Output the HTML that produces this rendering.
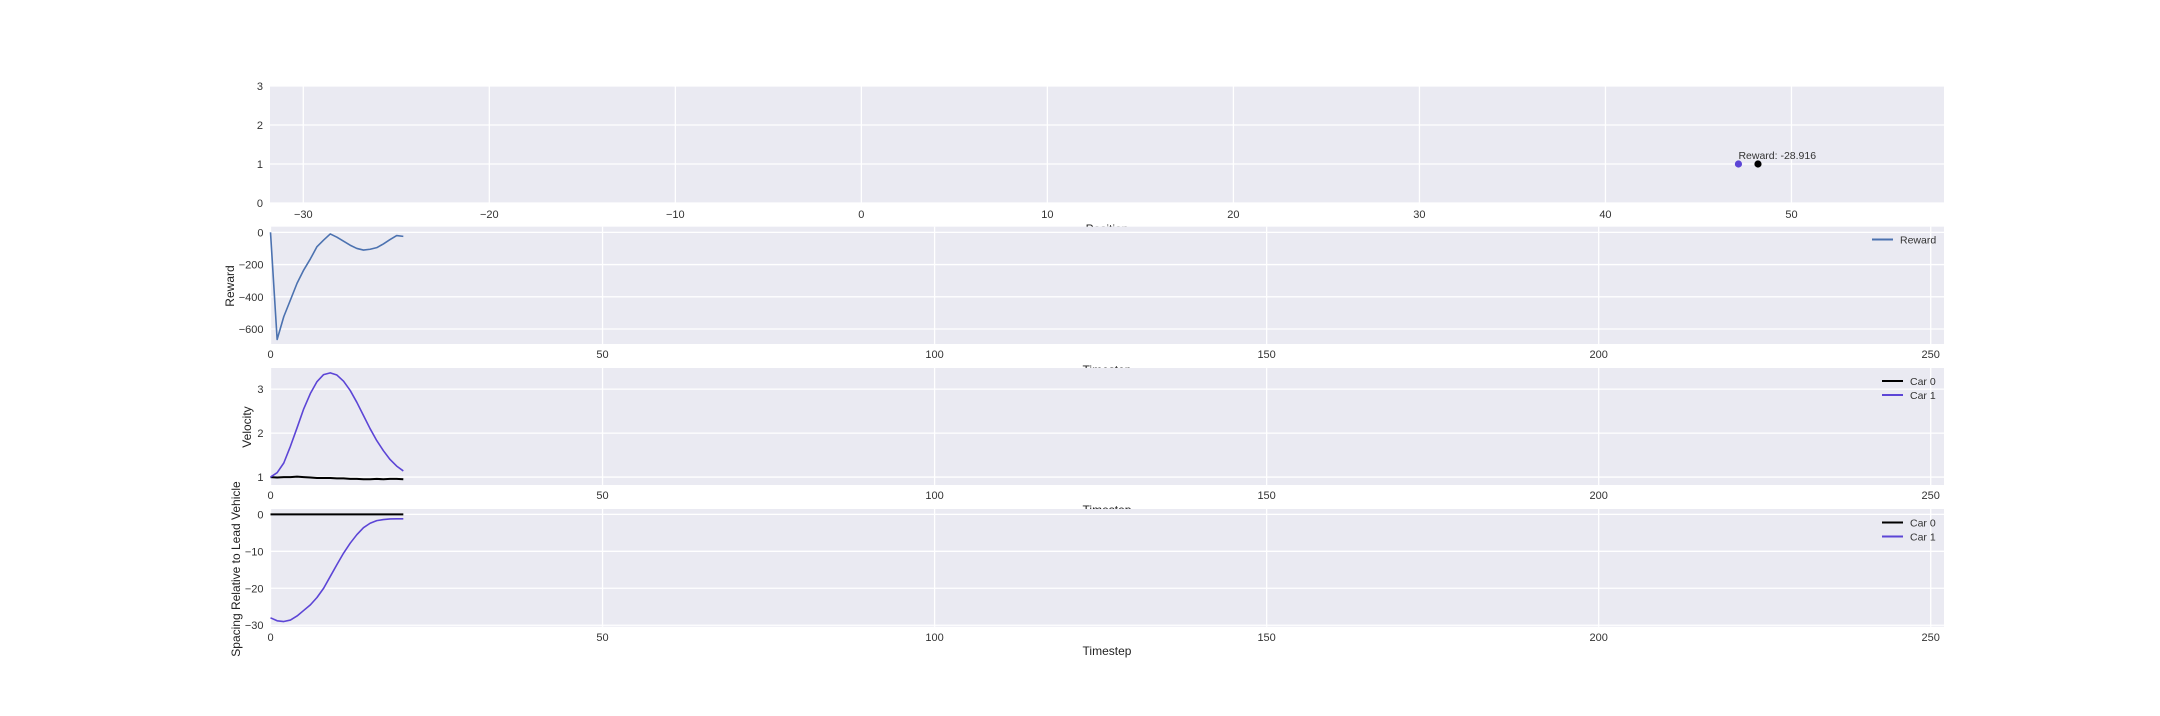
<!DOCTYPE html>
<html><head><meta charset="utf-8">
<style>
html,body{margin:0;padding:0;background:#fff;}
svg{display:block;font-family:"Liberation Sans",Arial,sans-serif;}
</style></head>
<body>
<svg id="chart" width="2160" height="716" viewBox="0 0 2160 716" xmlns="http://www.w3.org/2000/svg"></svg>
<script>
// ---- data ----
const posXTicks = [-30,-20,-10,0,10,20,30,40,50];
const posYTicks = [0,1,2,3];
const carPositions = [47.15, 48.2];
const carRows = [1, 1];
const carColors = ['#5c45d6', '#000000'];
const rewardText = 'Reward: -28.916';
const timeTicks = [0,50,100,150,200,250];
const timesteps = [0,1,2,3,4,5,6,7,8,9,10,11,12,13,14,15,16,17,18,19,20];
const rewardValues = [0,-665,-523,-420,-316,-234,-165,-89,-48,-10,-30,-55,-80,-100,-110,-105,-95,-72,-45,-20,-25];
const rewardTicks = [0,-200,-400,-600];
const velCar0 = [1.0,0.99,1.0,1.0,1.01,1.0,0.99,0.98,0.98,0.98,0.97,0.97,0.96,0.96,0.95,0.95,0.96,0.95,0.96,0.96,0.95];
const velCar1 = [1.0,1.1,1.32,1.7,2.12,2.55,2.9,3.17,3.33,3.37,3.32,3.18,2.97,2.7,2.4,2.1,1.83,1.6,1.4,1.25,1.14];
const velTicks = [1,2,3];
const spCar0 = [0,0,0,0,0,0,0,0,0,0,0,0,0,0,0,0,0,0,0,0,0];
const spCar1 = [-28,-28.8,-29,-28.6,-27.5,-26,-24.5,-22.5,-20,-16.8,-13.6,-10.5,-7.8,-5.5,-3.6,-2.4,-1.7,-1.4,-1.25,-1.2,-1.2];
const spTicks = [0,-10,-20,-30];

const NS='http://www.w3.org/2000/svg';
const svg=document.getElementById('chart');
function el(tag,attrs,parent){const e=document.createElementNS(NS,tag);for(const k in attrs)e.setAttribute(k,attrs[k]);(parent||svg).appendChild(e);return e;}

function panel(name,L,R,T,B,xmin,xmax,ymin,ymax,xt,yt,xTickY){
  const g=el('g',{});
  
  
  const sx=v=>L+(v-xmin)/(xmax-xmin)*(R-L);
  const sy=v=>B-(v-ymin)/(ymax-ymin)*(B-T);
  const bg=el('rect',{x:L,y:T,width:R-L,height:B-T,fill:'#EAEAF2'},g);
  
  
  xt.forEach(v=>{
    const l=el('line',{x1:sx(v),x2:sx(v),y1:T,y2:B,stroke:'#fff','stroke-width':1.3},g);
    
    
    const t=el('text',{x:sx(v),y:xTickY,'text-anchor':'middle','font-size':11,fill:'#333'},g);
    
    
    t.textContent=(v<0?'\u2212'+(-v):v);
  });
  yt.forEach(v=>{
    const l=el('line',{x1:L,x2:R,y1:sy(v),y2:sy(v),stroke:'#fff','stroke-width':1.3},g);
    
    
    const t=el('text',{x:L-7,y:sy(v)+4,'text-anchor':'end','font-size':11,fill:'#333'},g);
    
    
    t.textContent=(v<0?'\u2212'+(-v):v);
  });
  return {g,sx,sy};
}
function line(p,xs,ys,color,w,name){
  const d=xs.map((x,i)=>(i?'L':'M')+p.sx(x).toFixed(2)+','+p.sy(ys[i]).toFixed(2)).join('');
  const e=el('path',{d,fill:'none',stroke:color,'stroke-width':w,'stroke-linejoin':'round'},p.g);
  
  
}
function label(txt,x,y,rot,name,size){
  const t=el('text',{x,y,'text-anchor':'middle','font-size':size||12,fill:'#222',transform:rot?`rotate(-90 ${x} ${y})`:''});
  
  
  t.textContent=txt;
}
function legend(entries,x,y){
  const g=el('g',{});
  
  
  entries.forEach((en,i)=>{
    const yy=y+i*14;
    const l=el('line',{x1:x,x2:x+21,y1:yy,y2:yy,stroke:en[1],'stroke-width':2},g);
    
    
    const t=el('text',{x:x+28,y:yy+4,'font-size':10.5,fill:'#333'},g);
    
    
    t.textContent=en[0];
  });
}

label('Position',1107,233,false,'x-axis-title-position');
label('Timestep',1107,374,false,'x-axis-title-timestep-reward');
label('Timestep',1107,514,false,'x-axis-title-timestep-velocity');

// Panel 1: positions
const p1=panel('position-panel',270,1944,86,203,-31.79,58.2,0,3,posXTicks,posYTicks,218);
carPositions.forEach((v,i)=>{
  const c=el('circle',{cx:p1.sx(v),cy:p1.sy(carRows[i]),r:3.6,fill:carColors[i]},p1.g);
  
  
});
{const t=el('text',{x:p1.sx(carPositions[0]),y:p1.sy(1)-5,'font-size':10.5,fill:'#333'},p1.g);
 
 
 t.textContent=rewardText;}

// Panel 2: reward
const p2=panel('reward-panel',270.5,1944,226.7,344,0,252,-693,35,timeTicks,rewardTicks,358);
line(p2,timesteps,rewardValues,'#4c72b0',1.6,'reward-line');
legend([['Reward','#4c72b0']],1872,239.5);
label('Reward',234,286,true,'y-axis-title-reward');

// Panel 3: velocity
const p3=panel('velocity-panel',270.5,1944,368,485,0,252,0.82,3.48,timeTicks,velTicks,499);
line(p3,timesteps,velCar0,'#000',2,'velocity-car-0-line');
line(p3,timesteps,velCar1,'#5c45d6',1.6,'velocity-car-1-line');
legend([['Car 0','#000'],['Car 1','#5c45d6']],1882,381);
label('Velocity',251,427,true,'y-axis-title-velocity');

// Panel 4: spacing
const p4=panel('spacing-panel',270.5,1944,509,626.7,0,252,-30.4,1.45,timeTicks,spTicks,641);
line(p4,timesteps,spCar0,'#000',2,'spacing-car-0-line');
line(p4,timesteps,spCar1,'#5c45d6',1.6,'spacing-car-1-line');
legend([['Car 0','#000'],['Car 1','#5c45d6']],1882,522.5);
label('Spacing Relative to Lead Vehicle',240,569,true,'y-axis-title-spacing');
label('Timestep',1107,655,false,'x-axis-title-timestep');
</script>
</body></html>
